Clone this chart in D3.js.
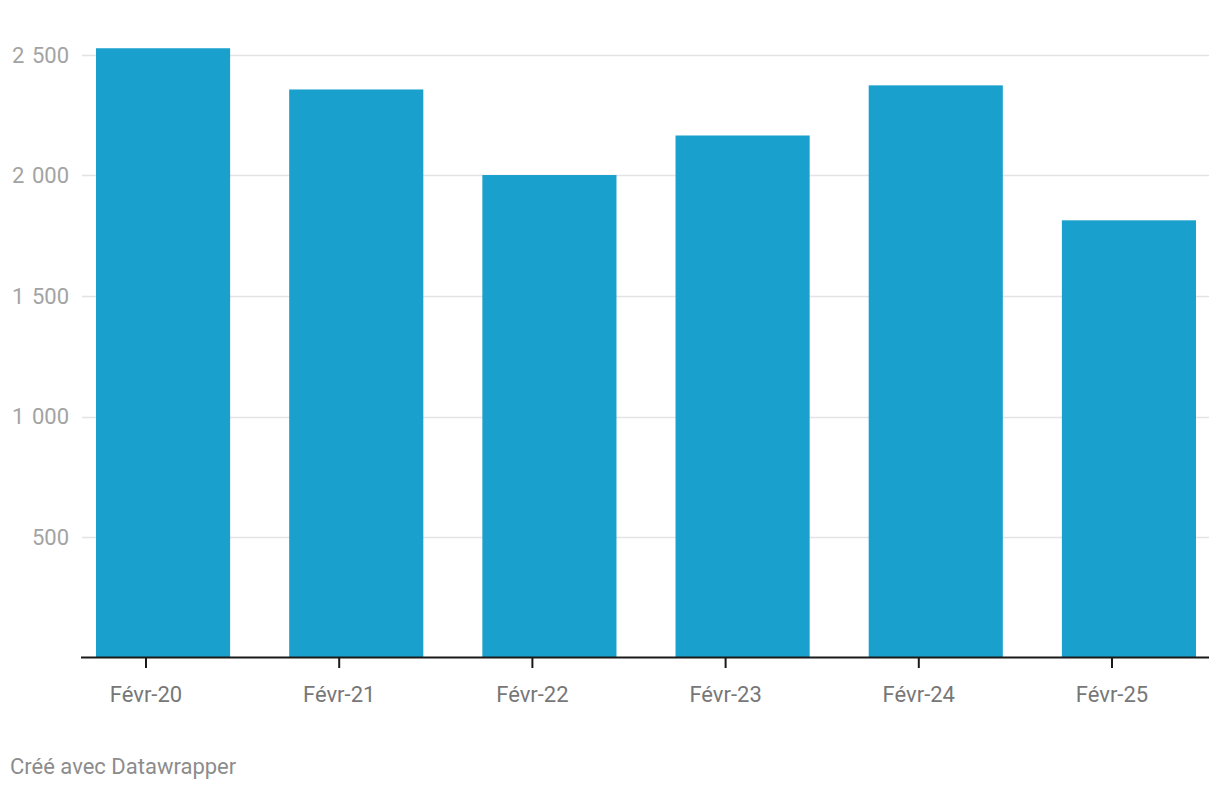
<!DOCTYPE html>
<html><head><meta charset="utf-8">
<script src="https://cdn.jsdelivr.net/npm/d3@7"></script>
<style>
html,body{margin:0;padding:0;background:#fff;}
svg{display:block;font-family:Roboto,"Noto Sans",sans-serif;}
</style></head>
<body>
<svg id="chart" width="1220" height="790"></svg>
<script>
const categories = ["Févr-20","Févr-21","Févr-22","Févr-23","Févr-24","Févr-25"];
const values = [2528, 2357, 2002, 2166, 2374, 1814];
const yTicks = [500, 1000, 1500, 2000, 2500];
const footer = "Créé avec Datawrapper";

const svg = d3.select("#chart");
const y = d3.scaleLinear().domain([0, 2500]).range([657.5, 55]);
const x = d3.scaleBand().domain(categories).range([96, 1196]).paddingInner(0.3057).paddingOuter(0);
const xt = d3.scalePoint().domain(categories).range([146, 1112]);

const fmt = v => d3.format(",")(v).replace(/,/g, " ");

// gridlines
svg.append("g").selectAll("line").data(yTicks).join("line")
  .attr("x1", 82).attr("x2", 1209)
  .attr("y1", d => Math.round(y(d)) + 0.5).attr("y2", d => Math.round(y(d)) + 0.5)
  .attr("stroke", "#e3e3e3").attr("stroke-width", 1.5);

svg.append("g").selectAll("text").data(yTicks).join("text")
  .attr("x", 69).attr("y", d => y(d))
  .attr("dy", "0.35em").attr("text-anchor", "end")
  .attr("font-size", 22).attr("fill", "#a3a3a3")
  .attr("word-spacing", 2)
  .text(d => fmt(d));

// bars
svg.append("g").selectAll("rect").data(values).join("rect")
  .attr("x", (d, i) => x(categories[i]))
  .attr("width", x.bandwidth())
  .attr("y", d => y(d))
  .attr("height", d => y(0) - y(d))
  .attr("fill", "#19a0cc");

// axis line
svg.append("line").attr("x1", 81).attr("x2", 1209)
  .attr("y1", 657.5).attr("y2", 657.5)
  .attr("stroke", "#1a1a1a").attr("stroke-width", 2);

svg.append("g").selectAll("line").data(categories).join("line")
  .attr("x1", d => xt(d)).attr("x2", d => xt(d))
  .attr("y1", 658).attr("y2", 668)
  .attr("stroke", "#1a1a1a").attr("stroke-width", 2);

svg.append("g").selectAll("text").data(categories).join("text")
  .attr("x", d => xt(d)).attr("y", 701.5)
  .attr("text-anchor", "middle")
  .attr("font-size", 22).attr("fill", "#777")
  .text(d => d);

svg.append("text").attr("x", 10).attr("y", 774)
  .attr("font-size", 22).attr("fill", "#8c8c8c")
  .text(footer);
</script>
</body></html>
